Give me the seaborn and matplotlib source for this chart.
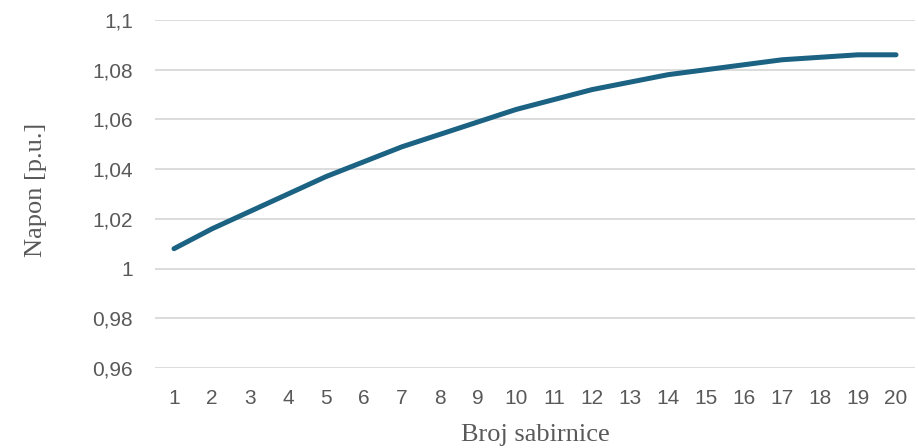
import matplotlib
matplotlib.use("Agg")
import matplotlib.pyplot as plt
import seaborn as sns
import pandas as pd

# Bus voltage profile along the feeder
bus_numbers = list(range(1, 21))
voltage_pu = [1.008, 1.016, 1.023, 1.030, 1.037, 1.043, 1.049, 1.054, 1.059, 1.064,
              1.068, 1.072, 1.075, 1.078, 1.080, 1.082, 1.084, 1.085, 1.086, 1.086]
y_ticks = [0.96, 0.98, 1.00, 1.02, 1.04, 1.06, 1.08, 1.10]
y_tick_labels = ["0,96", "0,98", "1", "1,02", "1,04", "1,06", "1,08", "1,1"]

df = pd.DataFrame({"Broj sabirnice": bus_numbers, "Napon [p.u.]": voltage_pu})

sns.set_theme(style="whitegrid")
plt.rcParams["font.family"] = ["Liberation Sans", "DejaVu Sans"]

fig = plt.figure(figsize=(9.18, 4.48), dpi=100)
ax = fig.add_axes([155 / 918, 1 - 368 / 448, 760 / 918, 348 / 448])

sns.lineplot(data=df, x="Broj sabirnice", y="Napon [p.u.]", ax=ax,
             color="#1B6283", linewidth=3.6, solid_capstyle="round",
             solid_joinstyle="round")

ax.set_xlim(0.5, 20.5)
ax.set_ylim(0.96, 1.10)
ax.set_xticks(bus_numbers)
ax.set_xticklabels([str(b) for b in bus_numbers])
ax.set_yticks(y_ticks)
ax.set_yticklabels(y_tick_labels)

ax.grid(axis="y", color="#D9D9D9", linewidth=1.3)
ax.grid(axis="x", visible=False)
for s in ax.spines.values():
    s.set_visible(False)

ax.tick_params(axis="both", colors="#595959", labelsize=15, length=0)
ax.tick_params(axis="y", pad=16)
ax.tick_params(axis="x", pad=15)

label_font = dict(family="Liberation Serif", size=19, color="#595959")
ax.set_xlabel("Broj sabirnice", fontdict=label_font)
ax.set_ylabel("Napon [p.u.]", fontdict=label_font)
ax.xaxis.set_label_coords(0.5, -0.162)
ax.yaxis.set_label_coords(-0.142, 0.512)

fig.savefig("out.png", dpi=100, facecolor="white")
